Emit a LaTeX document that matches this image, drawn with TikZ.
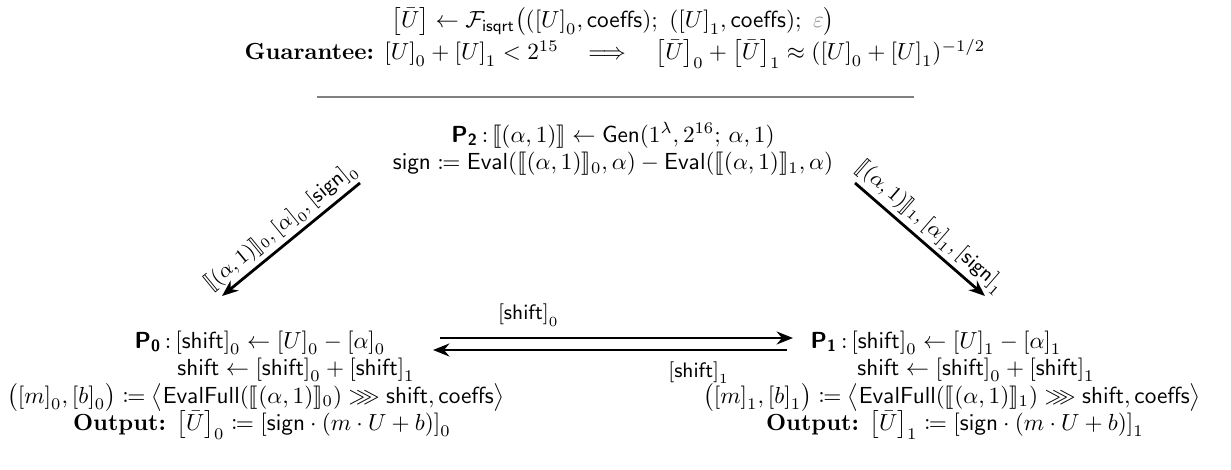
\documentclass[tikz,border=0pt]{standalone}
\usepackage{amsmath,amssymb,mathtools,stmaryrd}
\usetikzlibrary{arrows.meta,calc}
\newcommand{\shr}[2]{{\left[#1\right]_{#2}}}
\newcommand{\Pb}[1]{\text{\sffamily\bfseries P}_{\text{\sffamily\bfseries #1}}\,{:}\,}
\newcommand{\msf}[1]{\mathsf{#1}}
\tikzset{
  txt/.style={inner sep=0pt, align=center},
  ln/.style={inner sep=0pt, anchor=base},
  arr/.style={line width=1.2pt, -{Stealth[length=7pt,width=5.5pt]}},
  lbl/.style={font=\small, inner sep=1.5pt},
  rulestyle/.style={line width=0.8pt, draw=black!50}
}
\begin{document}
\begin{tikzpicture}[x=0.43pt,y=-0.43pt]
\useasboundingbox (0,0) rectangle (1231,470);
\node[txt] (title) at (613,22) {${\left[\bar U\right]} \leftarrow \mathcal{F}_{\msf{isqrt}}\big((\shr{U}{0}, \msf{coeffs});\ (\shr{U}{1}, \msf{coeffs});\ \textcolor{black!45}{\varepsilon}\big)$};
\node[txt] (guar) at (615,54) {\textbf{Guarantee:} $\shr{U}{0} + \shr{U}{1} < 2^{15} \quad\Longrightarrow\quad \shr{\bar U}{0} + \shr{\bar U}{1} \approx (\shr{U}{0} + \shr{U}{1})^{-1/2}$};
\draw[rulestyle] (317,97) -- (914,97);
\node[txt] (p2) at (613,149) {$\Pb{2} \llbracket(\alpha,1)\rrbracket \leftarrow \msf{Gen}(1^{\lambda}, 2^{16};\, \alpha, 1)$\\
$\msf{sign} \coloneqq \msf{Eval}(\llbracket(\alpha,1)\rrbracket_0, \alpha) - \msf{Eval}(\llbracket(\alpha,1)\rrbracket_1, \alpha)$};
% party 0
\node[ln] (p0) at (260,348) {$\Pb{0} \shr{\msf{shift}}{0} \leftarrow \shr{U}{0} - \shr{\alpha}{0}$};
\node[ln] (p0b) at (296,375) {$\msf{shift} \leftarrow \shr{\msf{shift}}{0} + \shr{\msf{shift}}{1}$};
\node[ln] (p0c) at (256,403) {$\big(\shr{m}{0}, \shr{b}{0}\big) \coloneqq \big\langle \msf{EvalFull}(\llbracket(\alpha,1)\rrbracket_0) \ggg \msf{shift}, \msf{coeffs}\big\rangle$};
\node[ln] (p0d) at (262,430) {\textbf{Output:} $\shr{\bar U}{0} \coloneqq \shr{\msf{sign}\cdot(m\cdot U + b)}{0}$};
% party 1
\node[ln] (p1) at (936,348) {$\Pb{1} \shr{\msf{shift}}{0} \leftarrow \shr{U}{1} - \shr{\alpha}{1}$};
\node[ln] (p1b) at (976,375) {$\msf{shift} \leftarrow \shr{\msf{shift}}{0} + \shr{\msf{shift}}{1}$};
\node[ln] (p1c) at (952,403) {$\big(\shr{m}{1}, \shr{b}{1}\big) \coloneqq \big\langle \msf{EvalFull}(\llbracket(\alpha,1)\rrbracket_1) \ggg \msf{shift}, \msf{coeffs}\big\rangle$};
\node[ln] (p1d) at (955,430) {\textbf{Output:} $\shr{\bar U}{1} \coloneqq \shr{\msf{sign}\cdot(m\cdot U + b)}{1}$};
% connectors
\coordinate (d0s) at (360,183);
\coordinate (d0e) at (222,296);
\coordinate (d1s) at (855,183);
\coordinate (d1e) at (985,296);
\draw[arr] (d0s) -- (d0e) node[lbl, midway, sloped, above] {$\llbracket(\alpha,1)\rrbracket_0, \shr{\alpha}{0}, \shr{\msf{sign}}{0}$};
\draw[arr] (d1s) -- (d1e) node[lbl, midway, sloped, above] {$\llbracket(\alpha,1)\rrbracket_1, \shr{\alpha}{1}, \shr{\msf{sign}}{1}$};
\coordinate (h0s) at (440,338);
\coordinate (h0e) at (793,338);
\coordinate (h1s) at (787,350);
\coordinate (h1e) at (433,350);
\draw[arr] (h0s) -- (h0e) node[lbl, pos=0.25, above=3pt] {$\shr{\msf{shift}}{0}$};
\draw[arr] (h1s) -- (h1e) node[lbl, pos=0.25, below=3pt] {$\shr{\msf{shift}}{1}$};
\end{tikzpicture}
\end{document}
